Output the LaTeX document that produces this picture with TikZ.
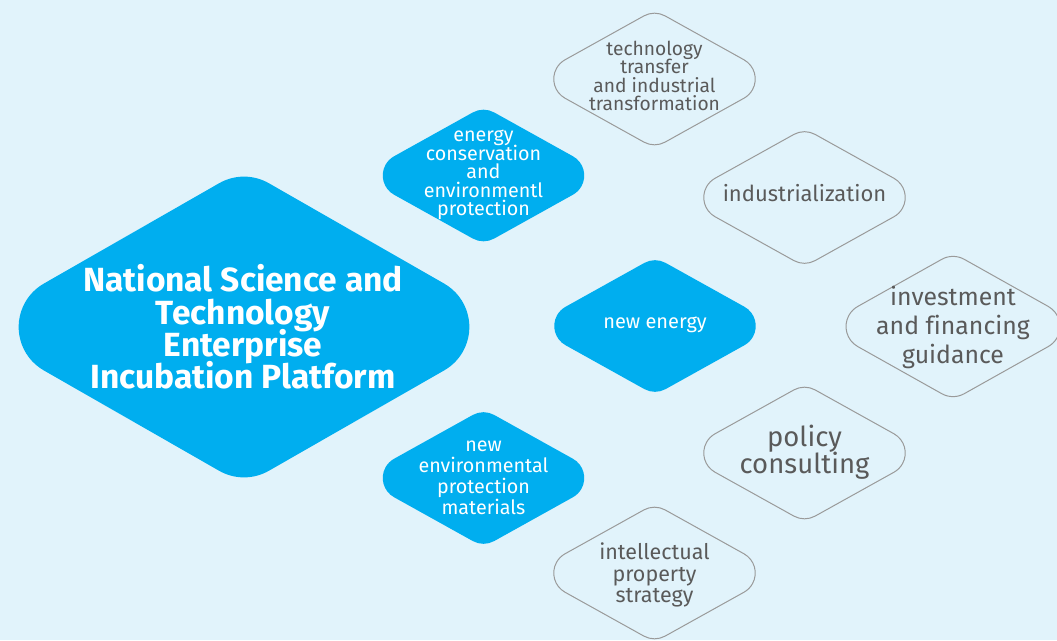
\documentclass[tikz,border=0pt]{standalone}
\usepackage{fontspec}
\setmainfont{Fira Sans}[RawFeature=-liga]
\definecolor{bg}{HTML}{E1F3FB}
\definecolor{blu}{HTML}{00AEEF}
\definecolor{gline}{HTML}{9A9A9A}
\definecolor{gtext}{HTML}{5A5A5A}
\tikzset{
  bluefill/.style={fill=blu, draw=none},
  grayline/.style={draw=gline, line width=1pt},
  whitetxt/.style={text=white, align=center, inner sep=0pt,
    execute at begin node={\lineskiplimit=-100pt\relax}},
  graytxt/.style={text=gtext, align=center, inner sep=0pt,
    execute at begin node={\lineskiplimit=-100pt\relax}},
}
\newcommand\rdia[6]{%
  \pgfmathsetmacro\rdal{atan(#5/#4)}%
  \pgfmathsetmacro\rdc{cos(\rdal)}%
  \pgfmathsetmacro\rds{sin(\rdal)}%
  \pgfmathsetmacro\rdl{#6/tan(\rdal)}%
  \pgfmathsetmacro\rdt{#6*tan(\rdal)}%
  \pgfmathsetmacro\rdy{-#3}%
  \path[#1] ({#2-\rdt*\rdc},{\rdy+#5-\rdt*\rds})
    arc[start angle={90+\rdal}, end angle={90-\rdal}, radius=#6pt]
    -- ({#2+#4-\rdl*\rdc},{\rdy+\rdl*\rds})
    arc[start angle={90-\rdal}, end angle={\rdal-90}, radius=#6pt]
    -- ({#2+\rdt*\rdc},{\rdy-#5+\rdt*\rds})
    arc[start angle={\rdal-90}, end angle={-90-\rdal}, radius=#6pt]
    -- ({#2-#4+\rdl*\rdc},{\rdy-\rdl*\rds})
    arc[start angle={-90-\rdal}, end angle={-270+\rdal}, radius=#6pt]
    -- cycle;
}
\begin{document}
\begin{tikzpicture}[x=1pt,y=1pt]
\path[fill=bg] (0,0) rectangle (1057,-640);
\useasboundingbox (0,0) rectangle (1057,-640);
% shapes
\rdia{bluefill}{244}{327}{276}{158}{50}
\rdia{bluefill}{483.5}{175.5}{124}{69}{22}
\rdia{bluefill}{655}{326}{124}{69}{22}
\rdia{bluefill}{483.5}{478}{124}{69}{22}
\rdia{grayline}{654.5}{79}{124}{69}{22}
\rdia{grayline}{804.5}{197.5}{124}{69}{22}
\rdia{grayline}{953}{326.5}{131}{73.5}{23}
\rdia{grayline}{804.5}{453}{124}{69}{22}
\rdia{grayline}{654.5}{573}{124}{69}{22}
% texts
\node[whitetxt, font=\fontsize{33.5}{32.3}\selectfont\bfseries] (main) at (243,-327)
  {National Science and\\Technology\\Enterprise\\Incubation Platform};
\node[whitetxt, font=\fontsize{19.7}{18.5}\selectfont] (enc) at (483.5,-175)
  {energy\\conservation\\and\\environmentl\\protection};
\node[whitetxt, font=\fontsize{20}{20}\selectfont] (ne) at (655,-325)
  {new energy};
\node[whitetxt, font=\fontsize{19.7}{21}\selectfont] (nem) at (483.5,-477.5)
  {new\\environmental\\protection\\materials};
\node[graytxt, font=\fontsize{19.2}{18.6}\selectfont] (tt) at (654.5,-76)
  {technology\\transfer\\and industrial\\transformation};
\node[graytxt, font=\fontsize{22}{24}\selectfont] (ind) at (804.5,-193)
  {industrialization};
\node[graytxt, font=\fontsize{24.8}{29}\selectfont] (inv) at (953,-327)
  {investment\\and financing\\guidance};
\node[graytxt, font=\fontsize{27.5}{27}\selectfont] (pc) at (804.5,-452)
  {policy\\consulting};
\node[graytxt, font=\fontsize{21.5}{21.5}\selectfont] (ip) at (654.5,-575)
  {intellectual\\property\\strategy};
\end{tikzpicture}
\end{document}
